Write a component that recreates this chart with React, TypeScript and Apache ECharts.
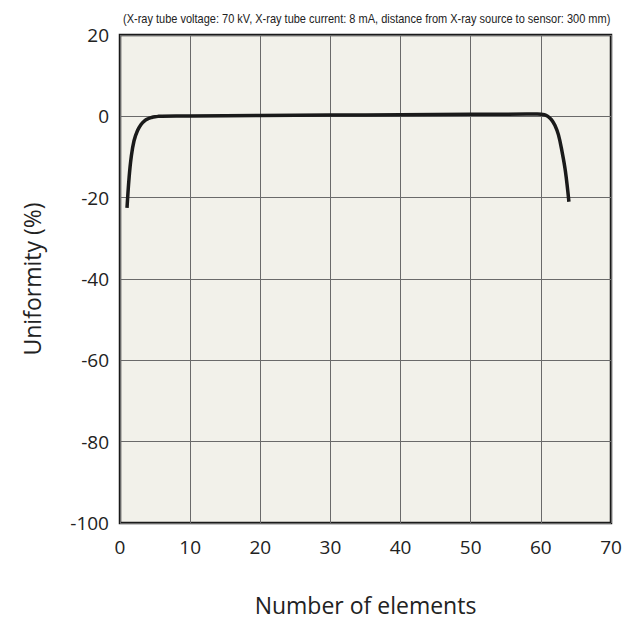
import React, { useEffect, useRef } from "react";
import * as echarts from "echarts";

const titleText =
  "(X-ray tube voltage: 70 kV, X-ray tube current: 8 mA, distance from X-ray source to sensor: 300 mm)";
const xAxisName = "Number of elements";
const yAxisName = "Uniformity (%)";

const elements = [1, 1.3, 1.6, 2, 2.5, 3, 3.5, 4, 4.5, 5, 5.5, 6, 10, 20, 30, 40, 50, 58, 59.5, 60.5, 61, 61.5, 62, 62.5, 63, 63.5, 64];
const uniformity = [-22.5, -15, -10, -6, -3.5, -2, -1.1, -0.6, -0.3, -0.1, 0, 0.05, 0.1, 0.2, 0.3, 0.4, 0.5, 0.55, 0.55, 0.4, 0, -0.8, -2.2, -4.5, -8.5, -13.5, -21];

const TITLE_FONT = "13px 'Liberation Sans'";

export default function App() {
  const ref = useRef<HTMLDivElement>(null);
  useEffect(() => {
    if (!ref.current) return;
    const canvas = document.createElement("canvas");
    const ctx = canvas.getContext("2d");
    let titleW = 560;
    if (ctx) {
      ctx.font = TITLE_FONT;
      titleW = ctx.measureText(titleText).width;
    }
    const targetW = 488;
    const sx = targetW / titleW;
    const chart = echarts.init(ref.current, undefined, { renderer: "svg" });
    chart.setOption({
      animation: false,
      backgroundColor: "#ffffff",
      graphic: [
        {
          type: "text",
          x: 123,
          y: 19,
          scaleX: sx,
          style: {
            text: titleText,
            font: TITLE_FONT,
            fill: "#222",
            textVerticalAlign: "middle",
            verticalAlign: "middle",
          },
        },
      ],
      grid: {
        left: 120,
        top: 35,
        width: 491,
        height: 488,
        show: true,
        outerBoundsMode: "none",
        containLabel: false,
        backgroundColor: "#f2f1ea",
        borderColor: "#1a1a1a",
        borderWidth: 2.5,
      },
      xAxis: {
        type: "value",
        min: 0,
        max: 70,
        interval: 10,
        name: xAxisName,
        nameLocation: "middle",
        nameGap: 70,
        nameTextStyle: { fontFamily: "Open Sans", fontSize: 23, color: "#222" },
        axisLine: { show: false },
        axisTick: { show: false },
        axisLabel: { fontFamily: "Open Sans", fontSize: 19, color: "#222", margin: 14 },
        splitLine: { show: true, lineStyle: { color: "#6a6a6a", width: 1 } },
      },
      yAxis: {
        type: "value",
        min: -100,
        max: 20,
        interval: 20,
        name: yAxisName,
        nameLocation: "middle",
        nameGap: 77,
        nameTextStyle: { fontFamily: "Open Sans", fontSize: 23, color: "#222" },
        axisLine: { show: false },
        axisTick: { show: false },
        axisLabel: { fontFamily: "Open Sans", fontSize: 19, color: "#222", margin: 11 },
        splitLine: { show: true, lineStyle: { color: "#6a6a6a", width: 1 } },
      },
      series: [
        {
          type: "line",
          data: elements.map((x, i) => [x, uniformity[i]]),
          smooth: 0.4,
          showSymbol: false,
          lineStyle: { color: "#1a1a1a", width: 3.5 },
        },
      ],
    });
    return () => chart.dispose();
  }, []);
  return (
    <div
      ref={ref}
      style={{ position: "absolute", left: 0, top: 0, width: 633, height: 621 }}
    />
  );
}
